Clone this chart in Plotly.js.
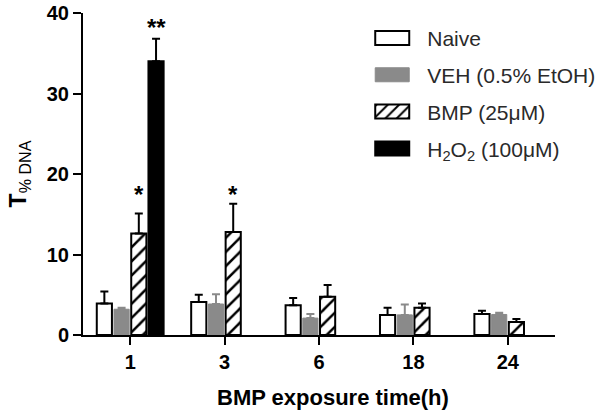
<!DOCTYPE html>
<html>
<head>
<meta charset="utf-8">
<script src="https://cdn.plot.ly/plotly-3.0.1.min.js"></script>
<style>html,body{margin:0;padding:0;background:#fff;}#chart{width:600px;height:415px;}</style>
</head>
<body>
<div id="chart"></div>
<script>
var categories = ['1', '3', '6', '18', '24'];
var naive = [3.9, 4.1, 3.7, 2.5, 2.6];
var naiveErr = [1.5, 0.9, 0.9, 0.9, 0.4];
var veh = [3.2, 3.85, 2.1, 2.5, 2.55];
var vehErr = [0.2, 1.2, 0.5, 1.3, 0.2];
var bmp = [12.6, 12.8, 4.75, 3.4, 1.6];
var bmpErr = [2.5, 3.5, 1.45, 0.5, 0.4];
var h2o2 = [34.0, null, null, null, null];
var h2o2Err = [2.8, null, null, null, null];
var seriesNames = ['Naive', 'VEH (0.5% EtOH)', 'BMP (25μM)', 'H<sub>2</sub>O<sub>2</sub> (100μM)'];
var starLabels = ['*', '**', '*'];
var starCategories = ['1', '1', '3'];
var starSeries = [2, 3, 2];
var starHeights = [18.2, 39.0, 18.2];
var xTitle = 'BMP exposure time(h)';
var yTitle = 'T<sub><span style="font-weight:normal">% DNA</span></sub>';

function zeros(a){ return a.map(function(){ return 0; }); }
function errSpec(arr, color){
  return {type: 'data', symmetric: false, array: arr, arrayminus: zeros(arr), color: color, thickness: 2, width: 4};
}

var traces = [
  {type: 'bar', name: seriesNames[0], x: categories, y: naive, legendgroup: 'a',
   marker: {color: '#ffffff', line: {color: '#000', width: 2}}, error_y: errSpec(naiveErr, '#000')},
  {type: 'bar', name: seriesNames[1], x: categories, y: veh, legendgroup: 'b',
   marker: {color: '#8a8a8a', line: {color: '#8a8a8a', width: 1}}, error_y: errSpec(vehErr, '#8a8a8a')},
  {type: 'bar', name: seriesNames[2], x: categories, y: bmp, legendgroup: 'c',
   marker: {color: '#ffffff', line: {color: '#000', width: 2},
            pattern: {shape: '/', fgcolor: '#000', bgcolor: '#fff', size: 10, solidity: 0.25}},
   error_y: errSpec(bmpErr, '#000')},
  {type: 'bar', name: seriesNames[3], x: categories, y: h2o2, legendgroup: 'd',
   marker: {color: '#000', line: {color: '#000', width: 2}}, error_y: errSpec(h2o2Err, '#000')}
];

var slotPx = 17.25;
var FONT = 'Liberation Sans, Arial, sans-serif';
var annotations = starLabels.map(function(t, k){
  return {x: categories.indexOf(starCategories[k]), y: starHeights[k], xref: 'x', yref: 'y',
    text: t, showarrow: false, yanchor: 'middle', yshift: -6,
    xshift: (starSeries[k] - 1.5) * slotPx,
    font: {family: FONT, size: 24, color: '#000', weight: 'bold'}};
});
annotations.push({x: 0.53, y: -0.194, xref: 'paper', yref: 'paper', text: xTitle, showarrow: false,
  xanchor: 'center', yanchor: 'middle', font: {family: FONT, size: 22, color: '#000', weight: 'bold'}});

var layout = {
  width: 600, height: 415,
  margin: {l: 83, r: 45, t: 13, b: 80, autoexpand: false},
  paper_bgcolor: '#fff', plot_bgcolor: '#fff',
  barmode: 'group', bargap: 0.27, bargroupgap: 0.12,
  font: {family: FONT, color: '#000'},
  xaxis: {type: 'category', showline: true, linecolor: '#000', linewidth: 2,
    ticks: 'outside', ticklen: 8, tickwidth: 2, tickcolor: '#000', showgrid: false, zeroline: false,
    tickfont: {size: 20, weight: 'bold', color: '#000'},
    range: [-0.5, 4.5]},
  yaxis: {range: [0, 40], dtick: 10, showline: true, linecolor: '#000', linewidth: 2,
    ticks: 'outside', ticklen: 8, tickwidth: 2, tickcolor: '#000', showgrid: false, zeroline: false,
    tickfont: {size: 20, weight: 'bold', color: '#000'},
    title: {text: yTitle, font: {size: 23, weight: 'bold', color: '#000'}, standoff: 14}},
  legend: {x: 0.581, xanchor: 'left', y: 0.985, yanchor: 'top', bgcolor: 'rgba(0,0,0,0)',
    font: {size: 21, color: '#2a2a2a'}, itemwidth: 60, tracegroupgap: 6.5, traceorder: 'grouped'},
  showlegend: true,
  annotations: annotations
};

Plotly.newPlot('chart', traces, layout, {displayModeBar: false, staticPlot: true}).then(function(gd){
  var paths = gd.querySelectorAll('.legend .legendpoints path');
  paths.forEach(function(p){ p.setAttribute('d', 'M17,7H-17V-7H17Z'); });
});
</script>
</body>
</html>
